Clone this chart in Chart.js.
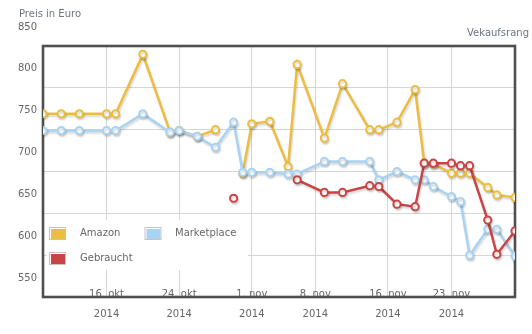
<!DOCTYPE html>
<html><head><meta charset="utf-8">
<script src="https://cdn.jsdelivr.net/npm/chart.js@4.4.1/dist/chart.umd.min.js"></script>
<style>html,body{margin:0;padding:0;background:#fff}#wrap{width:532px;height:334px;position:relative}</style>
</head><body><div id="wrap"><canvas id="c" width="532" height="334"></canvas></div>
<script>
// day numbers counted from 0 Oct 2014 (32 = 1 Nov)
const days = [9,11,13,16,17,20,23,24,26,28,30,31,32,34,36,37,40,42,45,46,48,50,51,52,54,55,56,58,59,61];
const amazon = [769,769,769,769,769,840,747,749,742,750,null,698,757,760,706,828,740,805,750,750,759,798,710,709,698,698,698,681,672,669];
const marketplace = [749,749,749,749,749,769,747,749,742,729,759,699,699,699,697,697,712,712,712,690,700,690,690,682,670,664,600,631,631,599];
const gebraucht = [null,null,null,null,null,null,null,null,null,null,668,null,null,null,null,690,675,675,683,682,661,658,710,710,710,707,707,642,601,629];
const tickDays = [16,24,32,39,47,54];
const tickLabels = [["16. okt","2014"],["24. okt","2014"],["1. nov","2014"],["8. nov","2014"],["16. nov","2014"],["23. nov","2014"]];
const yMin = 550, yMax = 850, yStep = 50;
const seriesNames = ["Amazon","Marketplace","Gebraucht"];
const seriesColors = ["#ecbd3e","#a9d3f3","#c94444"];
const yTitle = "Preis in Euro";
const rightTitle = "Vekaufsrang";

const FONT = "'DejaVu Sans', Verdana, sans-serif";
Chart.defaults.font.family = FONT;

function pts(arr){ return days.map((d,i)=>({x:d, y:arr[i]})); }
function ds(idx, arr, order){
  return {label: seriesNames[idx], data: pts(arr), order: order,
    borderColor: seriesColors[idx], backgroundColor: '#ffffff',
    borderWidth: 2.5, pointRadius: 3.6, pointBorderWidth: 2,
    pointBackgroundColor: '#ffffff', pointBorderColor: seriesColors[idx],
    tension: 0, spanGaps: false};
}

const shadowPlugin = {
  id: 'shadow',
  beforeDatasetDraw(chart){ const c=chart.ctx; c.save(); c.shadowColor='rgba(0,0,0,0.16)'; c.shadowOffsetX=1; c.shadowOffsetY=2; c.shadowBlur=2; },
  afterDatasetDraw(chart){ chart.ctx.restore(); }
};

const framePlugin = {
  id: 'frame',
  beforeDatasetsDraw(chart){
    const c = chart.ctx, a = chart.chartArea;
    c.save();
    // legend background
    c.fillStyle = '#ffffff';
    c.fillRect(47, 220, 201, 50);
    // legend items
    const items = [[49,227,80,233.5],[144.5,227,175,233.5],[49,252,80,258.5]];
    c.font = "10px " + FONT;
    c.textBaseline = 'middle';
    items.forEach((it,i)=>{
      c.strokeStyle = '#c4c4c4'; c.lineWidth = 1;
      c.strokeRect(it[0]+0.5, it[1]+0.5, 16, 12);
      c.fillStyle = seriesColors[i];
      c.fillRect(it[0]+2, it[1]+2, 14, 10);
      c.fillStyle = '#666666';
      c.textAlign = 'left';
      c.fillText(seriesNames[i], it[2], it[3]);
    });
    // frame
    c.strokeStyle = '#4f4f4f'; c.lineWidth = 2.6;
    c.strokeRect(a.left, a.top, a.right - a.left, a.bottom - a.top);
    // titles
    c.fillStyle = '#6d7480';
    c.font = "10px " + FONT;
    c.textAlign = 'left';
    c.fillText(yTitle, 19, 14);
    c.textAlign = 'right';
    c.fillText(rightTitle, 529, 33);
    c.restore();
  }
};

new Chart(document.getElementById('c'), {
  type: 'line',
  data: { datasets: [ ds(0, amazon, 3), ds(1, marketplace, 2), ds(2, gebraucht, 1) ] },
  options: {
    responsive: false, animation: false, devicePixelRatio: 1,
    layout: { padding: { top: 46, right: 17, left: 0, bottom: 0 } },
    plugins: { legend: { display: false }, tooltip: { enabled: false } },
    scales: {
      x: {
        type: 'linear', min: days[0], max: days[days.length-1],
        afterBuildTicks(s){ s.ticks = tickDays.map(v=>({value:v})); },
        afterFit(s){ s.height = 37; s.paddingLeft = 0; s.paddingRight = 0; },
        grid: { color: '#d6d6d6', lineWidth: 1, drawTicks: false },
        border: { display: false },
        ticks: {
          autoSkip: false, maxRotation: 0, padding: -7, mirror: true, color: '#666666',
          font: { size: 10, lineHeight: 2.0 },
          callback(v){ const i = tickDays.indexOf(v); return i >= 0 ? tickLabels[i] : ''; }
        }
      },
      y: {
        min: yMin, max: yMax,
        afterFit(s){ s.width = 43; s.paddingTop = 0; s.paddingBottom = 0; },
        grid: { color: '#d6d6d6', lineWidth: 1, drawTicks: false },
        border: { display: false },
        ticks: { stepSize: yStep, padding: 6, labelOffset: -19, color: '#666666', font: { size: 10 } }
      }
    }
  },
  plugins: [shadowPlugin, framePlugin]
});
</script></body></html>
